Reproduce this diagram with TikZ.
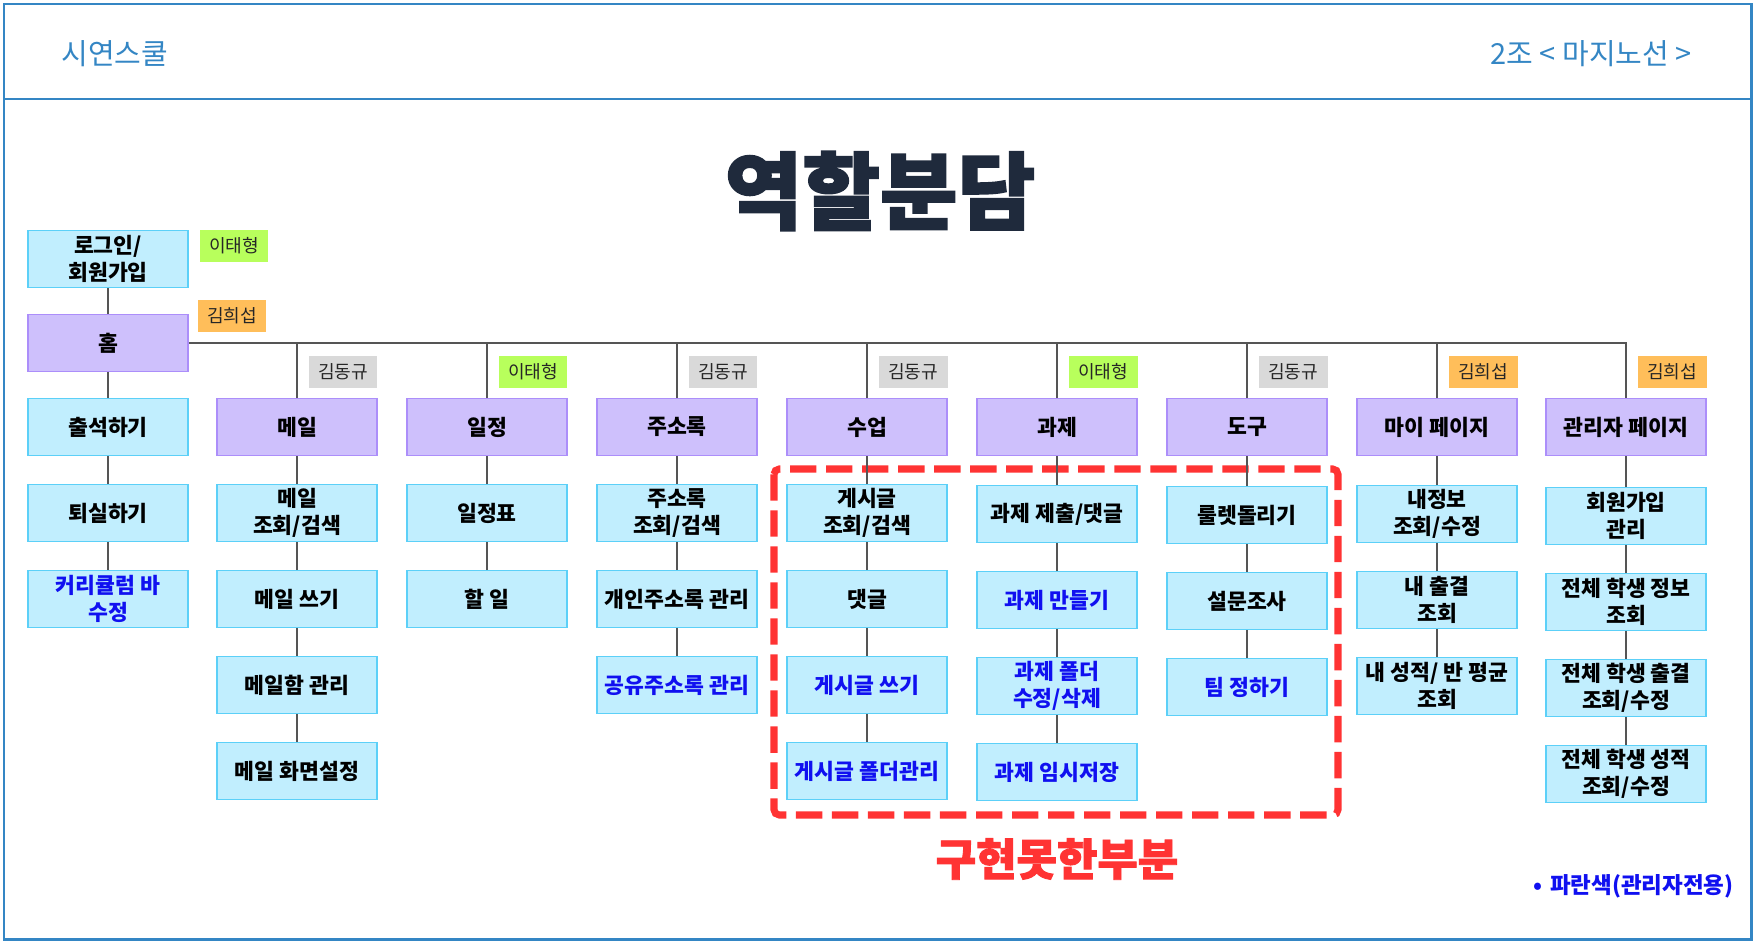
\documentclass[tikz,border=0pt]{standalone}
\usepackage{fontspec}
\setmainfont{Noto Sans CJK KR}
\newfontfamily\heavyfont{Noto Sans CJK KR}[FakeBold=2]
\usetikzlibrary{positioning}

\definecolor{frameblue}{RGB}{52,134,196}
\definecolor{boxfill}{RGB}{193,238,254}
\definecolor{boxline}{RGB}{92,208,248}
\definecolor{menufill}{RGB}{206,192,252}
\definecolor{menuline}{RGB}{172,142,250}
\definecolor{tagGreen}{RGB}{184,255,92}
\definecolor{tagOrange}{RGB}{255,190,90}
\definecolor{tagGray}{RGB}{217,217,217}
\definecolor{adminBlue}{RGB}{16,16,240}
\definecolor{todoRed}{RGB}{255,51,51}
\definecolor{titleNavy}{RGB}{31,42,60}
\definecolor{wire}{RGB}{85,85,85}

\begin{document}
\begin{tikzpicture}[
x=0.02cm, y=-0.02cm, % one unit = one pixel of the slide
line width=1pt,
every node/.style={inner sep=2pt, align=center},
subbox/.style={draw=boxline, fill=boxfill, minimum width=3.2cm, minimum height=1.14cm,
  inner xsep=0pt, font=\fontsize{12.3}{15.2}\selectfont\bfseries},
menubox/.style={subbox, draw=menuline, fill=menufill},
admin/.style={text=adminBlue},
who/.style={minimum width=1.38cm, minimum height=0.64cm, inner sep=0pt,
  font=\fontsize{10.3}{12}\selectfont, text=black!85},
link/.style={draw=wire, line width=0.9pt}
]
\useasboundingbox (0,0) rectangle (1756,943);

% ================= Slide frame and header =================
\draw[frameblue, line width=1.7pt] (4,4) rectangle (1751,939);
\draw[frameblue, line width=1.7pt] (4,99) -- (1751,99);

\node[anchor=west, text=frameblue, font=\fontsize{16.5}{19}\selectfont] (school) at (57,54) {시연스쿨};
\node[anchor=east, text=frameblue, font=\fontsize{16.5}{19}\selectfont] (group) at (1696,54) {2조 < 마지노선 >};

\node[text=titleNavy, font={\heavyfont\bfseries\fontsize{48}{54}\selectfont}] (title) at (880,191) {역할분담};

% ================= Not implemented area =================
\draw[todoRed, line width=4pt, dash pattern=on 15pt off 5.5pt, rounded corners=3pt]
  (774,469) rectangle (1338,815);
\node[text=todoRed, font={\heavyfont\bfseries\fontsize{25}{28}\selectfont}] (todo) at (1057,859) {구현못한부분};

% ================= Nodes =================

% Home column
\node[subbox] (login) at (108,259) {로그인/\\회원가입};
\node[menubox] (home) at (108,343) {홈};
\node[subbox] (attend) at (108,427) {출석하기};
\node[subbox] (leave) at (108,513) {퇴실하기};
\node[subbox, admin] (curri) at (108,599) {커리큘럼 바\\수정};

% Mail
\node[menubox] (mail) at (297,427) {메일};
\node[subbox] (mailfind) at (297,513) {메일\\조회/검색};
\node[subbox] (mailwrite) at (297,599) {메일 쓰기};
\node[subbox] (mailbox) at (297,685) {메일함 관리};
\node[subbox] (mailview) at (297,771) {메일 화면설정};

% Schedule
\node[menubox] (sched) at (487,427) {일정};
\node[subbox] (plan) at (487,513) {일정표};
\node[subbox] (todolist) at (487,599) {할 일};

% Address book
\node[menubox] (addr) at (677,427) {주소록};
\node[subbox] (addrfind) at (677,513) {주소록\\조회/검색};
\node[subbox] (addrown) at (677,599) {개인주소록 관리};
\node[subbox, admin] (addrshare) at (677,685) {공유주소록 관리};

% Class
\node[menubox] (class) at (867,427) {수업};
\node[subbox] (postfind) at (867,513) {게시글\\조회/검색};
\node[subbox] (reply) at (867,599) {댓글};
\node[subbox, admin] (postwrite) at (867,685) {게시글 쓰기};
\node[subbox, admin] (postfolder) at (867,771) {게시글 폴더관리};

% Homework
\node[menubox] (task) at (1057,427) {과제};
\node[subbox] (tasksend) at (1057,514) {과제 제출/댓글};
\node[subbox, admin] (taskmake) at (1057,600) {과제 만들기};
\node[subbox, admin] (taskfolder) at (1057,686) {과제 폴더\\수정/삭제};
\node[subbox, admin] (tasksave) at (1057,772) {과제 임시저장};

% Tools
\node[menubox] (tool) at (1247,427) {도구};
\node[subbox] (roulette) at (1247,515) {룰렛돌리기};
\node[subbox] (survey) at (1247,601) {설문조사};
\node[subbox, admin] (teams) at (1247,687) {팀 정하기};

% My page
\node[menubox] (mypage) at (1437,427) {마이 페이지};
\node[subbox] (myinfo) at (1437,514) {내정보\\조회/수정};
\node[subbox] (myattend) at (1437,600) {내 출결\\조회};
\node[subbox] (mygrade) at (1437,686) {내 성적/ 반 평균\\조회};

% Admin page
\node[menubox] (adminpg) at (1626,427) {관리자 페이지};
\node[subbox] (joinmgr) at (1626,516) {회원가입\\관리};
\node[subbox] (allinfo) at (1626,602) {전체 학생 정보\\조회};
\node[subbox] (allattend) at (1626,688) {전체 학생 출결\\조회/수정};
\node[subbox] (allgrade) at (1626,774) {전체 학생 성적\\조회/수정};

% Who does what
\node[who, fill=tagGreen] (tlogin) at (234,246) {이태형};
\node[who, fill=tagOrange] (thome) at (232,316) {김희섭};
\node[who, fill=tagGray] (tmail) at (343,372) {김동규};
\node[who, fill=tagGreen] (tsched) at (533,372) {이태형};
\node[who, fill=tagGray] (taddr) at (723,372) {김동규};
\node[who, fill=tagGray] (tclass) at (913,372) {김동규};
\node[who, fill=tagGreen] (ttask) at (1103,372) {이태형};
\node[who, fill=tagGray] (ttool) at (1293,372) {김동규};
\node[who, fill=tagOrange] (tmypage) at (1483,372) {김희섭};
\node[who, fill=tagOrange] (tadmin) at (1672,372) {김희섭};

% Legend
\node[anchor=east, text=adminBlue, font=\fontsize{12.8}{15}\selectfont\bfseries] (legend) at (1738,886)
  {•\hspace{0.35em}파란색(관리자전용)};

% ================= Edges =================

% Bus from home to every menu
\draw[link] (home.east) -| (adminpg.north);
\foreach \m in {mail,sched,addr,class,task,tool,mypage}
  \draw[link] (home.east -| \m.north) -- (\m.north);

% Home column
\draw[link] (login) -- (home);
\draw[link] (home) -- (attend);
\draw[link] (attend) -- (leave);
\draw[link] (leave) -- (curri);

% Sub menus
\draw[link] (mail) -- (mailfind) -- (mailwrite) -- (mailbox) -- (mailview);
\draw[link] (sched) -- (plan) -- (todolist);
\draw[link] (addr) -- (addrfind) -- (addrown) -- (addrshare);
\draw[link] (class) -- (postfind) -- (reply) -- (postwrite) -- (postfolder);
\draw[link] (task) -- (tasksend) -- (taskmake) -- (taskfolder) -- (tasksave);
\draw[link] (tool) -- (roulette) -- (survey) -- (teams);
\draw[link] (mypage) -- (myinfo) -- (myattend) -- (mygrade);
\draw[link] (adminpg) -- (joinmgr) -- (allinfo) -- (allattend) -- (allgrade);

\end{tikzpicture}
\end{document}
